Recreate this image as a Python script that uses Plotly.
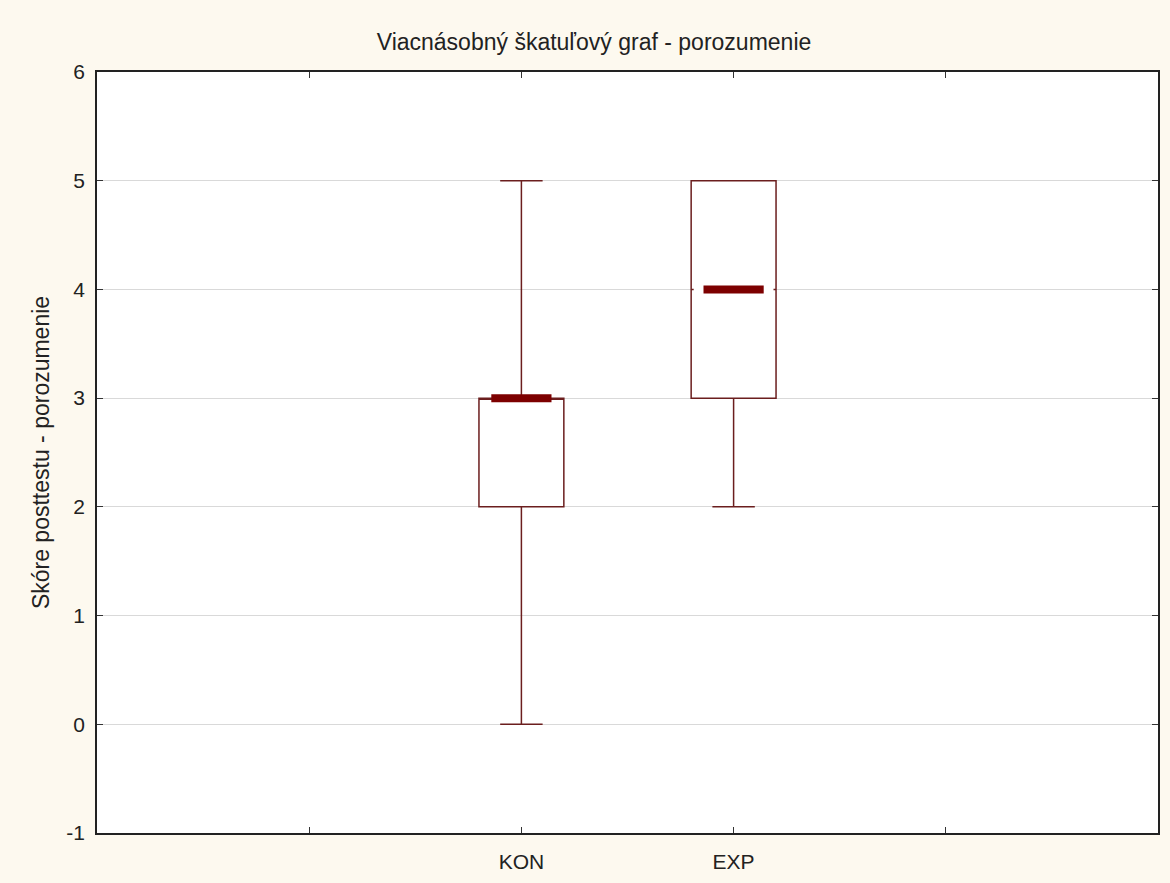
import plotly.graph_objects as go

groups = ["KON", "EXP"]
positions = [2, 3]
q1 = [2, 3]
median = [3, 4]
q3 = [3, 5]
lower = [0, 2]
upper = [5, 5]
x_tick_positions = [1, 2, 3, 4]
x_tick_labels = ["", "KON", "EXP", ""]
y_tick_values = [-1, 0, 1, 2, 3, 4, 5, 6]
y_tick_labels = ["-1", "0", "1", "2", "3", "4", "5", "6"]

box_color = "#6b1e1e"
median_color = "#7d0000"

fig = go.Figure()
fig.add_trace(go.Box(
    x=positions, q1=q1, median=median, q3=q3,
    lowerfence=lower, upperfence=upper,
    width=0.4, whiskerwidth=0.5,
    line=dict(color=box_color, width=1.5),
    fillcolor="white", boxpoints=False,
    showlegend=False, hoverinfo="skip",
))
# hide plotly's thin full-width median line where it lies inside the box
inner = [(p, m) for p, m, a, b in zip(positions, median, q1, q3) if a < m < b]
if inner:
    fig.add_trace(go.Scatter(
        x=[p for p, _ in inner], y=[m for _, m in inner], mode="markers",
        marker=dict(symbol="line-ew", size=57, line=dict(color="white", width=3)),
        showlegend=False, hoverinfo="skip",
    ))
fig.add_trace(go.Scatter(
    x=positions, y=median, mode="markers",
    marker=dict(symbol="line-ew", size=43,
                line=dict(color=median_color, width=8)),
    showlegend=False, hoverinfo="skip",
))

fig.update_layout(
    width=1170, height=883,
    paper_bgcolor="#fdf9ef", plot_bgcolor="white",
    margin=dict(l=97, r=10, t=72, b=47),
    font=dict(family="Liberation Sans, Arial, sans-serif", color="#222"),
    title=dict(text="Viacnásobný škatuľový graf - porozumenie",
               x=594/1170, xref="container", xanchor="center",
               y=1 - 42/883, yanchor="middle",
               font=dict(size=23, color="#222")),
)
fig.update_xaxes(
    range=[0, 5], tickmode="array", tickvals=x_tick_positions, ticktext=x_tick_labels,
    ticks="inside", ticklen=6, tickcolor="#333", showgrid=False,
    showline=True, linecolor="#222", linewidth=1.5, mirror="ticks",
    tickfont=dict(size=21), ticklabelstandoff=9, zeroline=False,
)
fig.update_yaxes(
    range=[-1, 6], tickmode="array", tickvals=y_tick_values, ticktext=y_tick_labels,
    ticks="inside", ticklen=6, tickcolor="#333",
    showgrid=True, gridcolor="#d9d9d9", gridwidth=1,
    showline=True, linecolor="#222", linewidth=1.5, mirror="ticks",
    tickfont=dict(size=21), ticklabelstandoff=6, zeroline=False,
    title=dict(text="Skóre posttestu - porozumenie", font=dict(size=23), standoff=10),
)

fig.write_html("out.html")
